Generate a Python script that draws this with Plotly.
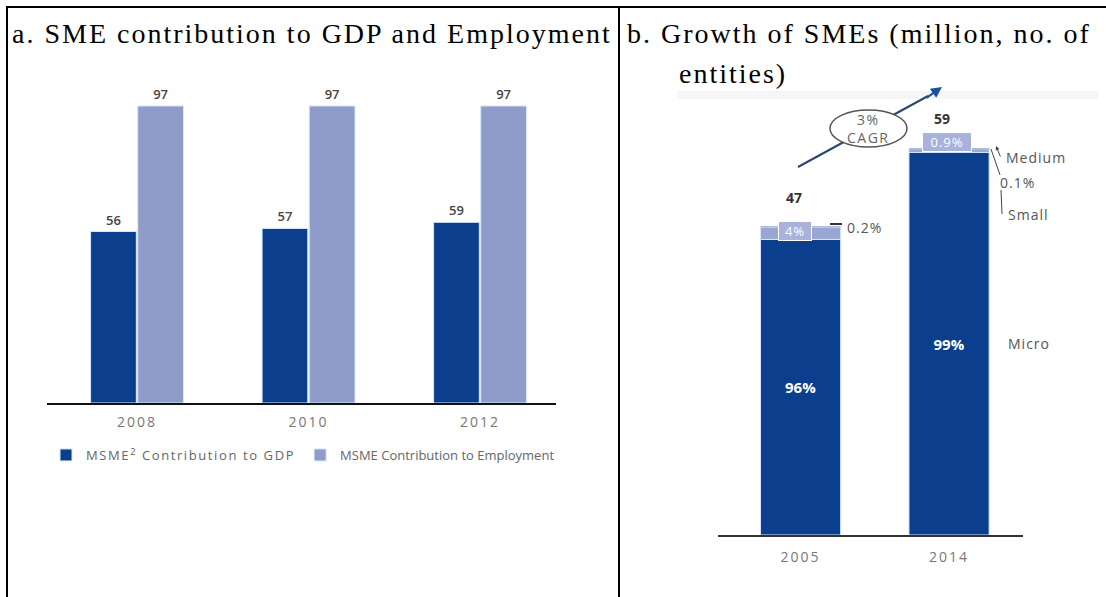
import plotly.graph_objects as go

W, H = 1106, 597

# ---- panel a: SME contribution to GDP and employment (%) ----
years_a = ["2008", "2010", "2012"]
gdp_share = [56, 57, 59]
emp_share = [97, 97, 97]

# ---- panel b: number of SMEs (million) and size mix (%) ----
years_b = ["2005", "2014"]
total_entities = [47, 59]
micro_pct = [96, 99]
small_pct = [4, 0.9]
medium_pct = [0.2, 0.1]

DARK = "#0b3f8e"
LIGHT = "#8f9bc9"
BAND = "#9aa5d1"
EDGE = "#d4e8ff"
SANS = "Open Sans"
SERIF = "Liberation Serif"


def px(x):
    return x / W


def py(y):
    return 1 - y / H


def wide(s, spacing):
    """Wrap text in a span with extra tracking."""
    return f'<span style="letter-spacing:{spacing}px">{s}</span>'


micro_vals = [t * p / 100 for t, p in zip(total_entities, micro_pct)]
small_vals = [t * p / 100 for t, p in zip(total_entities, small_pct)]
medium_vals = [t * p / 100 for t, p in zip(total_entities, medium_pct)]
small_base = micro_vals
medium_base = [m + s for m, s in zip(micro_vals, small_vals)]

fig = go.Figure()

# panel a bars
fig.add_bar(
    x=years_a, y=gdp_share, name=wide("MSME<sup>2</sup> Contribution to GDP", 1.6),
    marker=dict(color=DARK, line=dict(color=EDGE, width=1)),
    text=gdp_share, textposition="outside", cliponaxis=False,
    textfont=dict(family=SANS, size=13, color="#444444", weight=600),
    xaxis="x", yaxis="y", hoverinfo="skip",
)
fig.add_bar(
    x=years_a, y=emp_share, name="MSME Contribution to Employment",
    marker=dict(color=LIGHT, line=dict(color=EDGE, width=1)),
    text=emp_share, textposition="outside", cliponaxis=False,
    textfont=dict(family=SANS, size=13, color="#444444", weight=600),
    xaxis="x", yaxis="y", hoverinfo="skip",
)

# panel b stacked bars (explicit base so they share one slot)
bar_w = 0.54
fig.add_bar(
    x=years_b, y=micro_vals, base=[0] * len(years_b), width=bar_w, offset=-bar_w / 2,
    marker=dict(color=DARK, line=dict(color=EDGE, width=1)),
    text=[f"{p}%" for p in micro_pct], textposition="inside",
    insidetextanchor="middle", cliponaxis=False,
    textfont=dict(family=SANS, size=15, color="white", weight=700),
    xaxis="x2", yaxis="y2", showlegend=False, hoverinfo="skip",
)
fig.add_bar(
    x=years_b, y=small_vals, base=small_base, width=bar_w, offset=-bar_w / 2,
    marker=dict(color=BAND, line=dict(color=EDGE, width=1)),
    xaxis="x2", yaxis="y2", showlegend=False, hoverinfo="skip",
)
fig.add_bar(
    x=years_b, y=medium_vals, base=medium_base, width=bar_w, offset=-bar_w / 2,
    marker=dict(color=BAND, line=dict(width=0)),
    xaxis="x2", yaxis="y2", showlegend=False, hoverinfo="skip",
)

annotations = []

# cell headings
title_font = dict(family=SERIF, size=28, color="black")
annotations += [
    dict(text=wide("a. SME contribution to GDP and Employment", 2.0),
         x=px(10), y=py(34), xref="paper", yref="paper", xanchor="left", yanchor="middle",
         showarrow=False, font=title_font),
    dict(text=wide("b. Growth of SMEs (million, no. of", 2.0),
         x=px(625), y=py(34), xref="paper", yref="paper", xanchor="left", yanchor="middle",
         showarrow=False, font=title_font),
    dict(text=wide("entities)", 2.0),
         x=px(677), y=py(73), xref="paper", yref="paper", xanchor="left", yanchor="middle",
         showarrow=False, font=title_font),
]

# totals above the stacked bars
for i, t in enumerate(total_entities):
    annotations.append(dict(
        text=str(t), x=i, y=t, xref="x2", yref="y2", yshift=30, xshift=-7,
        xanchor="center", yanchor="middle",
        showarrow=False, font=dict(family=SANS, size=14, color="#333333", weight=700),
    ))

# small-enterprise share boxes
box_w = [32, 48]
box_dx = [-6, -2]
box_dy = [2, 9]
for i, p in enumerate(small_pct):
    annotations.append(dict(
        text=wide(f"{p}%", 1), x=i, y=small_base[i] + small_vals[i] / 2, xref="x2", yref="y2",
        xshift=box_dx[i], yshift=box_dy[i], xanchor="center", yanchor="middle",
        showarrow=False, width=box_w[i], height=18,
        bgcolor="#a9b2da", bordercolor="white", borderwidth=1, borderpad=0,
        font=dict(family=SANS, size=13, color="white"),
    ))

# size class call-outs
side_font = dict(family=SANS, size=14, color="#555555")
annotations += [
    dict(text=wide(f"{medium_pct[0]}%", 1), x=px(845), y=py(227), xref="paper", yref="paper",
         xanchor="left", yanchor="middle", showarrow=False, font=side_font),
    dict(text=wide("Medium", 1), x=px(1004), y=py(157), xref="paper", yref="paper",
         xanchor="left", yanchor="middle", showarrow=False, font=side_font),
    dict(text=wide(f"{medium_pct[1]}%", 1), x=px(998), y=py(182), xref="paper", yref="paper",
         xanchor="left", yanchor="middle", showarrow=False, font=side_font),
    dict(text=wide("Small", 1), x=px(1006), y=py(215), xref="paper", yref="paper",
         xanchor="left", yanchor="middle", showarrow=False, font=side_font),
    dict(text=wide("Micro", 1), x=px(1006), y=micro_vals[1] / 2, xref="paper", yref="y2",
         xanchor="left", yanchor="middle", showarrow=False, font=side_font),
    # CAGR label inside the ellipse
    dict(text=wide("3%", 1.5) + "<br>" + wide("CAGR", 1.5), x=px(868), y=py(128),
         xref="paper", yref="paper", xanchor="center", yanchor="middle",
         showarrow=False, font=dict(family=SANS, size=14, color="#666666")),
    # arrow tip of the growth line
    dict(text="", x=px(942), y=py(87), xref="paper", yref="paper",
         ax=-17, ay=12, showarrow=True, arrowhead=2, arrowsize=1.1, arrowwidth=2,
         arrowcolor="#1f4f9f"),
    # small arrow toward "Medium"
    dict(text="", x=px(996), y=py(146), xref="paper", yref="paper",
         ax=5, ay=12, showarrow=True, arrowhead=2, arrowsize=0.8, arrowwidth=1,
         arrowcolor="#444444"),
]

line_blk = dict(color="black", width=2)
shapes = [
    # table rules
    dict(type="line", xref="paper", yref="paper", x0=px(7), x1=px(7), y0=py(6), y1=0, line=line_blk),
    dict(type="line", xref="paper", yref="paper", x0=px(6), x1=1, y0=py(7), y1=py(7), line=line_blk),
    dict(type="line", xref="paper", yref="paper", x0=px(619), x1=px(619), y0=py(6), y1=0, line=line_blk),
    # faint band at the top of panel b
    dict(type="rect", xref="paper", yref="paper", x0=px(677), x1=px(1098), y0=py(99), y1=py(91),
         fillcolor="#f6f6f6", line=dict(width=0), layer="below"),
    # growth line and CAGR ellipse
    dict(type="line", xref="paper", yref="paper", x0=px(798), y0=py(167), x1=px(928), y1=py(96),
         line=dict(color="#2a4670", width=2)),
    dict(type="circle", xref="paper", yref="paper", x0=px(830), x1=px(907), y0=py(147), y1=py(110),
         fillcolor="white", line=dict(color="#555555", width=1.5)),
    # call-out leader lines
    dict(type="line", xref="paper", yref="paper", x0=px(830), x1=px(842), y0=py(224), y1=py(224),
         line=dict(color="#333333", width=2)),
    dict(type="line", xref="paper", yref="paper", x0=px(991), x1=px(1000), y0=py(149), y1=py(175),
         line=dict(color="#444444", width=1)),
    dict(type="line", xref="paper", yref="paper", x0=px(1001), x1=px(1002), y0=py(190), y1=py(214),
         line=dict(color="#444444", width=1)),
]

fig.update_layout(
    width=W, height=H, margin=dict(l=0, r=0, t=0, b=0),
    paper_bgcolor="white", plot_bgcolor="white",
    barmode="group", bargap=0.45, bargroupgap=0.03,
    showlegend=True,
    legend=dict(orientation="h", x=px(46), y=py(455), xanchor="left", yanchor="middle",
                font=dict(family=SANS, size=13, color="#666666"), itemwidth=30,
                bgcolor="rgba(0,0,0,0)", traceorder="normal"),
    xaxis=dict(domain=[px(47), px(556)], range=[-0.525, 2.443], type="category",
               tickmode="array", tickvals=years_a, ticktext=[wide(y, 2) for y in years_a],
               showline=True, linecolor="#111111", linewidth=2, ticks="", showgrid=False,
               zeroline=False, tickfont=dict(family=SANS, size=14, color="#777777"),
               ticklabelstandoff=5, anchor="y"),
    yaxis=dict(domain=[py(403), py(96.8)], range=[0, 100], visible=False, anchor="x"),
    xaxis2=dict(domain=[px(718), px(1023)], range=[-0.556, 1.498], type="category",
                tickmode="array", tickvals=years_b, ticktext=[wide(y, 2) for y in years_b],
                showline=True, linecolor="#333333", linewidth=1.5, ticks="", showgrid=False,
                zeroline=False, tickfont=dict(family=SANS, size=14, color="#777777"),
                ticklabelstandoff=8, anchor="y2"),
    yaxis2=dict(domain=[py(535), py(109.25)], range=[0, 65], visible=False, anchor="x2"),
    annotations=annotations,
    shapes=shapes,
)

fig.write_html("out.html")
